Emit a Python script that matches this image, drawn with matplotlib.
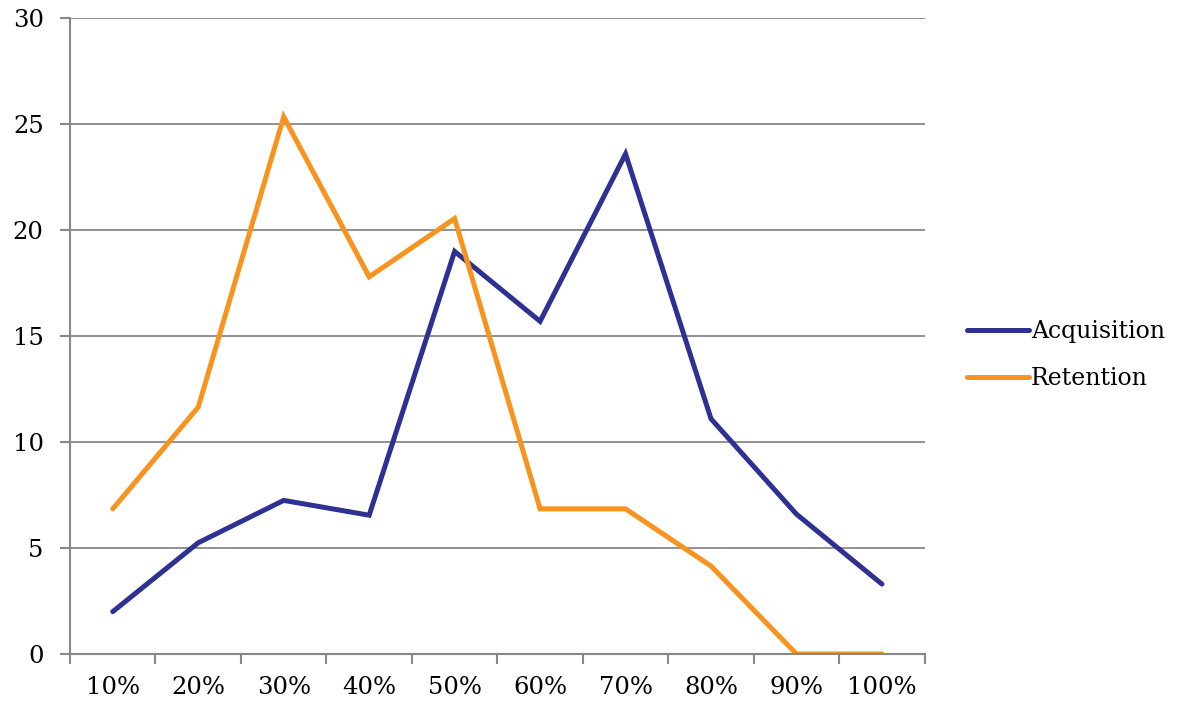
import numpy as np
import matplotlib.pyplot as plt

categories = ["10%", "20%", "30%", "40%", "50%", "60%", "70%", "80%", "90%", "100%"]
acquisition = [2.0, 5.25, 7.25, 6.55, 19.0, 15.7, 23.6, 11.1, 6.6, 3.3]
retention = [6.85, 11.65, 25.35, 17.8, 20.55, 6.85, 6.85, 4.15, 0.0, 0.0]

plt.rcParams['font.family'] = ['DejaVu Serif']
fig = plt.figure(figsize=(11.87, 7.04), dpi=100)
ax = fig.add_axes([0.059, 0.071, 0.72, 0.903])

x = np.arange(len(categories))
ax.plot(x, acquisition, color="#2E3192", lw=3.6, label="Acquisition", solid_capstyle='round', solid_joinstyle='miter')
ax.plot(x, retention, color="#F7931E", lw=3.6, label="Retention", solid_capstyle='round', solid_joinstyle='miter')

ax.set_xlim(-0.5, len(categories) - 0.5)
ax.set_ylim(0, 30)
ax.set_yticks(range(0, 31, 5))
ax.set_xticks(x)
ax.set_xticklabels(categories)
ax.set_xticks(np.arange(-0.5, len(categories), 1), minor=True)
ax.tick_params(axis='x', which='major', length=0, pad=16, labelsize=17.5)
ax.tick_params(axis='x', which='minor', length=7, color='#888888', width=1.5)
ax.tick_params(axis='y', length=7, color='#888888', width=1.5, pad=12, labelsize=17.5)
ax.grid(axis='y', color='#888888', lw=1.3)
ax.set_axisbelow(True)
for s in ['top', 'right']:
    ax.spines[s].set_visible(False)
for s in ['left', 'bottom']:
    ax.spines[s].set_color('#888888')
    ax.spines[s].set_linewidth(1.5)

ax.legend(loc='center left', bbox_to_anchor=(1.025, 0.47), frameon=False, fontsize=17,
          handlelength=2.6, handletextpad=0.1, labelspacing=1.0)

fig.savefig("out.png", dpi=100)
